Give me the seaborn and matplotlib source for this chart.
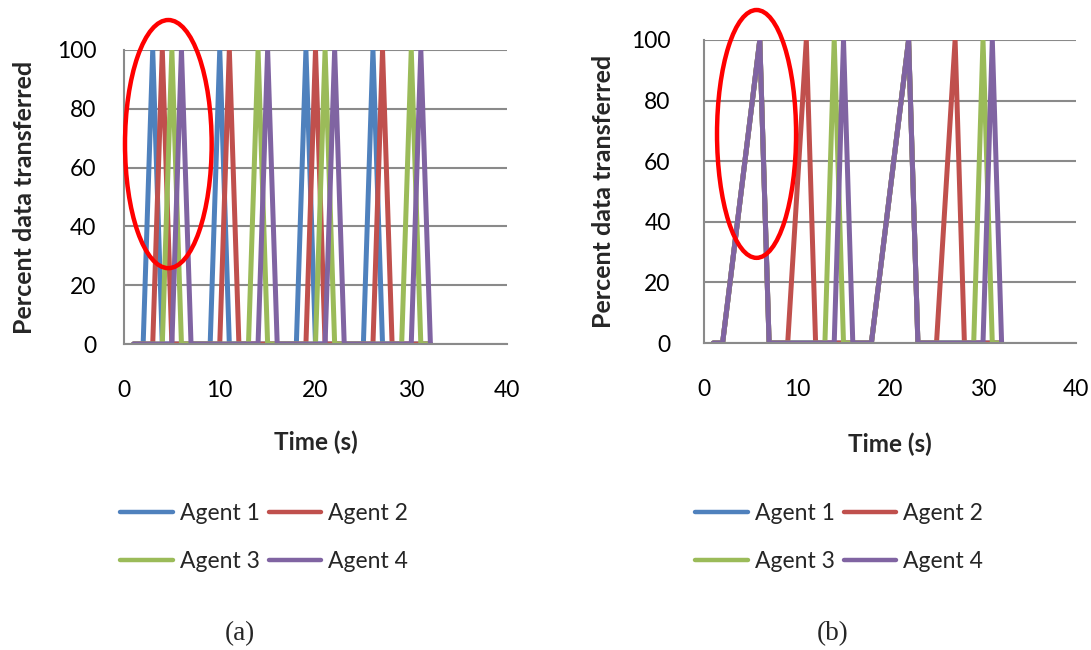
import matplotlib
matplotlib.use("Agg")
import matplotlib.pyplot as plt
from matplotlib.patches import Ellipse
import seaborn as sns
import pandas as pd

# ---------------- data ----------------
time_s = [1, 2, 3, 4, 5, 6, 7, 8, 9, 10, 11, 12, 13, 14, 15, 16,
          17, 18, 19, 20, 21, 22, 23, 24, 25, 26, 27, 28, 29, 30, 31, 32]
agents = ["Agent 1", "Agent 2", "Agent 3", "Agent 4"]

# panel (a)
a_agent1 = [0, 0, 100, 0, 0, 0, 0, 0, 0, 100, 0, 0, 0, 0, 0, 0,
            0, 0, 100, 0, 0, 0, 0, 0, 0, 100, 0, 0, 0, 0, 0, 0]
a_agent2 = [0, 0, 0, 100, 0, 0, 0, 0, 0, 0, 100, 0, 0, 0, 0, 0,
            0, 0, 0, 100, 0, 0, 0, 0, 0, 0, 100, 0, 0, 0, 0, 0]
a_agent3 = [0, 0, 0, 0, 100, 0, 0, 0, 0, 0, 0, 0, 0, 100, 0, 0,
            0, 0, 0, 0, 100, 0, 0, 0, 0, 0, 0, 0, 0, 100, 0, 0]
a_agent4 = [0, 0, 0, 0, 0, 100, 0, 0, 0, 0, 0, 0, 0, 0, 100, 0,
            0, 0, 0, 0, 0, 100, 0, 0, 0, 0, 0, 0, 0, 0, 100, 0]

# panel (b)
b_agent1 = [0, 0, 25, 50, 75, 100, 0, 0, 0, 0, 0, 0, 0, 0, 0, 0,
            0, 0, 25, 50, 75, 100, 0, 0, 0, 0, 0, 0, 0, 0, 0, 0]
b_agent2 = [0, 0, 25, 50, 75, 100, 0, 0, 0, 50, 100, 0, 0, 0, 0, 0,
            0, 0, 25, 50, 75, 100, 0, 0, 0, 50, 100, 0, 0, 0, 0, 0]
b_agent3 = [0, 0, 25, 50, 75, 100, 0, 0, 0, 0, 0, 0, 0, 100, 0, 0,
            0, 0, 25, 50, 75, 100, 0, 0, 0, 0, 0, 0, 0, 100, 0, 0]
b_agent4 = [0, 0, 25, 50, 75, 100, 0, 0, 0, 0, 0, 0, 0, 0, 100, 0,
            0, 0, 25, 50, 75, 100, 0, 0, 0, 0, 0, 0, 0, 0, 100, 0]

x_ticks = [0, 10, 20, 30, 40]
y_ticks = [0, 20, 40, 60, 80, 100]
panel_labels = ["(a)", "(b)"]
x_label = "Time (s)"
y_label = "Percent data transferred"

colors = ["#4F81BD", "#C0504D", "#9BBB59", "#8064A2"]
grid_col = "#8A8A8A"


def long_form(series):
    rows = []
    for name, vals in zip(agents, series):
        for t, v in zip(time_s, vals):
            rows.append({"Time": t, "Value": v, "Agent": name})
    return pd.DataFrame(rows)


df_a = long_form([a_agent1, a_agent2, a_agent3, a_agent4])
df_b = long_form([b_agent1, b_agent2, b_agent3, b_agent4])

sns.set_theme(style="white")
plt.rcParams["font.family"] = ["Lato", "DejaVu Sans"]

W, H = 1091, 650
fig = plt.figure(figsize=(W / 100, H / 100), dpi=100)


def px_axes(x0, x1, ytop, ybot):
    return fig.add_axes([x0 / W, 1 - ybot / H, (x1 - x0) / W, (ybot - ytop) / H])


ax_a = px_axes(124, 507, 50, 344)
ax_b = px_axes(704, 1076, 40, 343)

panels = [
    dict(ax=ax_a, df=df_a, ell=(4.63, 68.0, 9.05, 84.4), leg_x=120, lab_x=240,
         ypad=20, ylab_x=-0.26, label=panel_labels[0]),
    dict(ax=ax_b, df=df_b, ell=(5.65, 69.0, 8.5, 81.8), leg_x=695, lab_x=833,
         ypad=24, ylab_x=-0.27, label=panel_labels[1]),
]

for p in panels:
    ax = p["ax"]
    sns.lineplot(data=p["df"], x="Time", y="Value", hue="Agent", hue_order=agents,
                 palette=colors, linewidth=3.6, ax=ax, legend=False,
                 estimator=None, sort=False)
    ax.set_xlim(0, 40)
    ax.set_ylim(0, 100)
    ax.set_xticks(x_ticks)
    ax.set_yticks(y_ticks)
    ax.set_xticklabels([str(v) for v in x_ticks])
    ax.set_yticklabels([str(v) for v in y_ticks])
    ax.tick_params(axis="both", length=0, labelsize=16.5, colors="black")
    ax.tick_params(axis="y", pad=p["ypad"])
    ax.tick_params(axis="x", pad=26)
    ax.yaxis.grid(True, color=grid_col, linewidth=1.5)
    ax.xaxis.grid(False)
    ax.set_axisbelow(True)
    for side in ["top", "right"]:
        ax.spines[side].set_visible(False)
    for side in ["left", "bottom"]:
        ax.spines[side].set_color(grid_col)
        ax.spines[side].set_linewidth(1.5)

    ax.set_xlabel(x_label, fontsize=17.5, fontweight="bold")
    ax.xaxis.label.set_va("center")
    ax.xaxis.set_label_coords(0.5, -(442 - 344) / 294)
    ax.set_ylabel(y_label, fontsize=18, fontweight="bold")
    ax.yaxis.label.set_va("center")
    ax.yaxis.set_label_coords(p["ylab_x"], 0.5)

    cx, cy, ew, eh = p["ell"]
    ax.add_patch(Ellipse((cx, cy), ew, eh, fill=False, edgecolor="#FF0000",
                         linewidth=3.2, clip_on=False, zorder=10))

    lines = ax.get_lines()[:4]
    order = [0, 2, 1, 3]  # legend fills column-wise; reference reads row-wise
    leg = fig.legend([lines[i] for i in order], [agents[i] for i in order],
                     loc="upper left", bbox_to_anchor=(p["leg_x"] / W, 1 - 503 / H),
                     ncol=2, frameon=False, fontsize=16.5, handlelength=2.3,
                     handletextpad=0.3, columnspacing=0.4,
                     labelspacing=1.16, borderpad=0, borderaxespad=0)
    for ln in leg.get_lines():
        ln.set_linewidth(3.2)
        ln.set_solid_capstyle("round")

    fig.text(p["lab_x"] / W, 1 - 634 / H, p["label"], ha="center", va="center",
             fontsize=19.5, family=["Liberation Serif", "DejaVu Serif"])

fig.savefig("out.png", dpi=100)
